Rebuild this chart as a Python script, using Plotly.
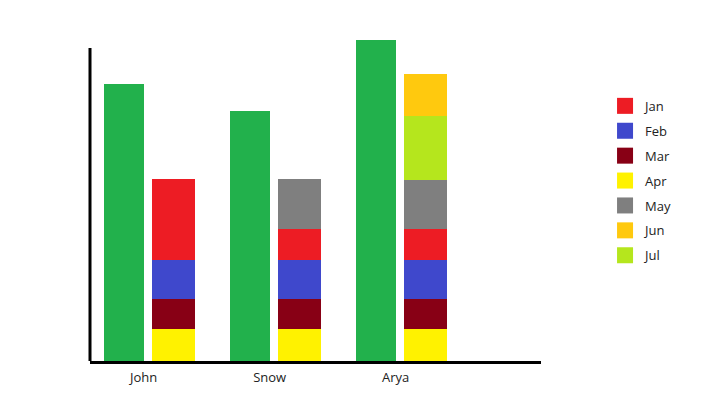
import plotly.graph_objects as go

names = ['John', 'Snow', 'Arya']
total = [27.7, 25.0, 32.1]

# stacked from bottom to top
months = ['Apr', 'Mar', 'Feb', 'Jan', 'May', 'Jul', 'Jun']
month_values = {
    'Apr': [3.2, 3.2, 3.2],
    'Mar': [3.0, 3.0, 3.0],
    'Feb': [3.9, 3.9, 3.9],
    'Jan': [8.1, 3.1, 3.1],
    'May': [0, 5.0, 4.9],
    'Jul': [0, 0, 6.4],
    'Jun': [0, 0, 4.2],
}
legend_order = ['Jan', 'Feb', 'Mar', 'Apr', 'May', 'Jun', 'Jul']
colors = {
    'Jan': '#ED1C24', 'Feb': '#3F48CC', 'Mar': '#880015', 'Apr': '#FFF200',
    'May': '#7F7F7F', 'Jun': '#FFC90E', 'Jul': '#B5E61D',
}

pos = list(range(len(names)))
green_x = [p - 0.195 for p in pos]
stack_x = [p + 0.195 for p in pos]
tick_x = [p - 0.04 for p in pos]

fig = go.Figure()
fig.add_trace(go.Bar(x=green_x, y=total, width=0.317, marker_color='#22B14C',
                     marker_line_width=0, showlegend=False))
for m in months:
    fig.add_trace(go.Bar(x=stack_x, y=month_values[m], width=0.341, name=m,
                         marker_color=colors[m], marker_line_width=0,
                         showlegend=False))
# legend swatches, one group each so the gap spreads them out
for i, m in enumerate(legend_order):
    fig.add_trace(go.Scatter(x=[None], y=[None], mode='markers', name=m,
                             legendgroup=m,
                             marker=dict(symbol='square', size=21, color=colors[m])))

fig.update_layout(
    width=709, height=400,
    barmode='stack',
    plot_bgcolor='white', paper_bgcolor='white',
    margin=dict(l=82, r=176, t=22, b=47),
    font=dict(family='Open Sans', size=13, color='#222'),
    xaxis=dict(range=[-0.466, 3.113], tickvals=tick_x, ticktext=names,
               showgrid=False, zeroline=False, showline=True,
               linecolor='black', linewidth=3, ticks='', ticklen=0,
               ticklabelstandoff=2),
    yaxis=dict(range=[0, 33.1], showticklabels=False, showgrid=False,
               zeroline=False, showline=False),
    legend=dict(x=1.142, y=0.816, xanchor='left', yanchor='top',
                font=dict(size=13), traceorder='grouped', tracegroupgap=5),
    shapes=[dict(type='line', xref='paper', yref='y', x0=0, x1=0, y0=0, y1=31.3,
                 line=dict(color='black', width=3))],
)

fig.write_html('out.html')
